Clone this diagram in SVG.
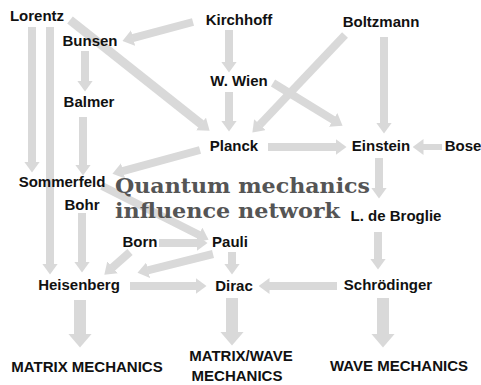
<svg xmlns="http://www.w3.org/2000/svg" width="481" height="385" viewBox="0 0 481 385">
<style>
.n{font-family:"Liberation Sans",Arial,sans-serif;font-weight:700;font-size:15px;fill:#111;text-anchor:middle}
.t{font-family:"DejaVu Serif",serif;font-weight:700;font-size:21px;fill:#555}
.c{stroke:#d9d9d9;stroke-width:8;fill:none}
.cb{stroke:#d9d9d9;stroke-width:12;fill:none}
</style>
<defs>
<marker id="ah" markerUnits="userSpaceOnUse" viewBox="0 -8 11 16" markerWidth="11" markerHeight="16" refX="0.5" refY="0" orient="auto"><path d="M0,-8L11,0L0,8z" fill="#d9d9d9"/></marker>
<marker id="ahb" markerUnits="userSpaceOnUse" viewBox="0 -12 14 24" markerWidth="14" markerHeight="24" refX="0.5" refY="0" orient="auto"><path d="M0,-12L14,0L0,12z" fill="#d9d9d9"/></marker>
</defs>
<rect width="481" height="385" fill="#fff"/>
<g id="connectors" marker-end="url(#ah)">
<line class="c" x1="193" y1="22" x2="132.6" y2="38.2"/>
<line class="c" x1="229" y1="30" x2="229" y2="62"/>
<line class="c" x1="70" y1="20" x2="201.4" y2="124.2" style="stroke-width:9"/>
<line class="c" x1="32" y1="27" x2="32" y2="162"/>
<line class="c" x1="50" y1="27" x2="50" y2="264"/>
<line class="c" x1="85" y1="51" x2="85" y2="81"/>
<line class="c" x1="83" y1="117" x2="83" y2="165"/>
<line class="c" x1="229" y1="92" x2="229" y2="121"/>
<line class="c" x1="345" y1="35" x2="259.6" y2="125"/>
<line class="c" x1="273" y1="83" x2="333.6" y2="120.2"/>
<line class="c" x1="384" y1="37" x2="384" y2="123"/>
<line class="c" x1="268" y1="147" x2="336" y2="147"/>
<line class="c" x1="442" y1="147" x2="423" y2="147" style="stroke-width:6"/>
<line class="c" x1="200" y1="150" x2="122.6" y2="171.1"/>
<line class="c" x1="102" y1="186" x2="199.2" y2="235"/>
<line class="c" x1="159" y1="243" x2="197" y2="243"/>
<line class="c" x1="232" y1="252" x2="232" y2="264"/>
<line class="c" x1="213" y1="254" x2="147.7" y2="270.3"/>
<line class="c" x1="130" y1="252" x2="112.2" y2="267.7"/>
<line class="c" x1="82" y1="213" x2="82" y2="262"/>
<line class="c" x1="130" y1="286" x2="196" y2="286"/>
<line class="c" x1="337" y1="286" x2="269" y2="286"/>
<line class="c" x1="379" y1="158" x2="379" y2="188"/>
<line class="c" x1="378" y1="232" x2="378" y2="259"/>
<line class="cb" x1="80" y1="300" x2="80" y2="334" marker-end="url(#ahb)"/>
<line class="cb" x1="232" y1="298" x2="232" y2="332" marker-end="url(#ahb)"/>
<line class="cb" x1="383" y1="298" x2="383" y2="334" marker-end="url(#ahb)"/>
</g>
<g id="title">
<text class="t" x="115" y="193" textLength="255" lengthAdjust="spacingAndGlyphs">Quantum mechanics</text>
<text class="t" x="115" y="218" textLength="225" lengthAdjust="spacingAndGlyphs">influence network</text>
</g>
<g id="lorentz"><text class="n" x="37" y="21">Lorentz</text></g>
<g id="kirchhoff"><text class="n" x="239" y="25">Kirchhoff</text></g>
<g id="boltzmann"><text class="n" x="381" y="27">Boltzmann</text></g>
<g id="bunsen"><text class="n" x="90" y="46">Bunsen</text></g>
<g id="wien"><text class="n" x="239" y="86">W. Wien</text></g>
<g id="balmer"><text class="n" x="89" y="107">Balmer</text></g>
<g id="planck"><text class="n" x="234" y="151">Planck</text></g>
<g id="einstein"><text class="n" x="381" y="151">Einstein</text></g>
<g id="bose"><text class="n" x="463" y="151">Bose</text></g>
<g id="sommerfeld"><text class="n" x="62" y="187">Sommerfeld</text></g>
<g id="bohr"><text class="n" x="82" y="210">Bohr</text></g>
<g id="debroglie"><text class="n" x="396" y="221">L. de Broglie</text></g>
<g id="born"><text class="n" x="140" y="247">Born</text></g>
<g id="pauli"><text class="n" x="230" y="247">Pauli</text></g>
<g id="heisenberg"><text class="n" x="79" y="290">Heisenberg</text></g>
<g id="dirac"><text class="n" x="234" y="291">Dirac</text></g>
<g id="schrodinger"><text class="n" x="388" y="290">Schrödinger</text></g>
<g id="matrix"><text class="n" x="87" y="372">MATRIX MECHANICS</text></g>
<g id="matrixwave"><text class="n" x="241" y="361">MATRIX/WAVE</text><text class="n" x="237" y="381">MECHANICS</text></g>
<g id="wave"><text class="n" x="399" y="371">WAVE MECHANICS</text></g>
</svg>
